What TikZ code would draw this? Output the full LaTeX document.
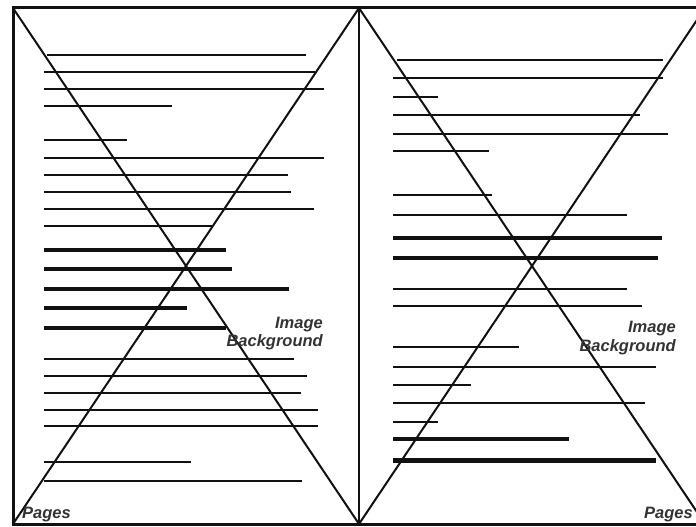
\documentclass[tikz,border=0pt]{standalone}
\usepackage{fontspec}
\setmainfont{Liberation Sans}
\usepackage{xcolor}
\definecolor{Ink}{HTML}{111111}
\definecolor{LblGray}{HTML}{333333}
\usepackage{tikz}
\tikzset{
  frm/.style={draw=Ink,line width=3pt},
  sep/.style={draw=Ink,line width=2pt},
  diag/.style={draw=Ink,line width=2pt},
  tl/.style={draw=Ink,line width=2pt},
  tlb/.style={draw=Ink,line width=4pt},
  lbl/.style={inner sep=0pt,text=LblGray,
    font=\bfseries\itshape\fontsize{16.5}{18}\selectfont},
}

\begin{document}
\begin{tikzpicture}[x=1pt,y=-1pt]
\useasboundingbox (0,0) rectangle (696,527);
\clip (0,0) rectangle (696,527);
\fill[white] (0,0) rectangle (696,527);

% page corners
\coordinate (ltl) at (13,8);   \coordinate (lbl) at (13,524);
\coordinate (mt)  at (359,8);  \coordinate (mb)  at (359,524);
\coordinate (rtr) at (705,8);  \coordinate (rbr) at (705,524);

% left page text lines: y / x start / x end
\foreach \y/\xa/\xb in {55/47/306,72/44/315,89/44/324,106/44/172,
  140/44/127,158/44/324,175/44/288,192/44/291,209/44/314,226/44/212,
  359/44/294,376/44/307,393/44/301,410/44/318,426/44/318,
  462/44/191,481/44/302}
  \draw[tl] (\xa,\y) -- (\xb,\y);
\foreach \y/\xa/\xb in {250/44/226,269/44/232,289/44/289,308/44/187,328/44/226}
  \draw[tlb] (\xa,\y) -- (\xb,\y);

% right page text lines
\foreach \y/\xa/\xb in {60/397/663,78/393/663,97/393/438,115/393/640,
  134/393/668,151/393/489,195/393/492,215/393/627,289/393/627,
  306/393/642,347/393/519,367/393/656,385/393/471,403/393/645,
  422/393/438}
  \draw[tl] (\xa,\y) -- (\xb,\y);
\foreach \y/\xa/\xb in {238/393/662,258/393/658,439/393/569}
  \draw[tlb] (\xa,\y) -- (\xb,\y);
\draw[tlb,line width=5pt] (393,460) -- (656,460);

% diagonals
\draw[diag] (ltl) -- (mb);
\draw[diag] (mt) -- (lbl);
\draw[diag] (mt) -- (rbr);
\draw[diag] (rtr) -- (mb);

% page frames
\draw[frm] (ltl) rectangle (rbr);
\draw[sep] (mt) -- (mb);

% labels
\node[lbl,anchor=base east] (imgl) at (323,328) {Image};
\node[lbl,anchor=base east] (bgl) at (323,346) {Background};
\node[lbl,anchor=base west] (pgl) at (22,518) {Pages};
\node[lbl,anchor=base east] (imgr) at (676,332) {Image};
\node[lbl,anchor=base east] (bgr) at (676,351) {Background};
\node[lbl,anchor=base east] (pgr) at (693,518) {Pages};
\end{tikzpicture}
\end{document}
